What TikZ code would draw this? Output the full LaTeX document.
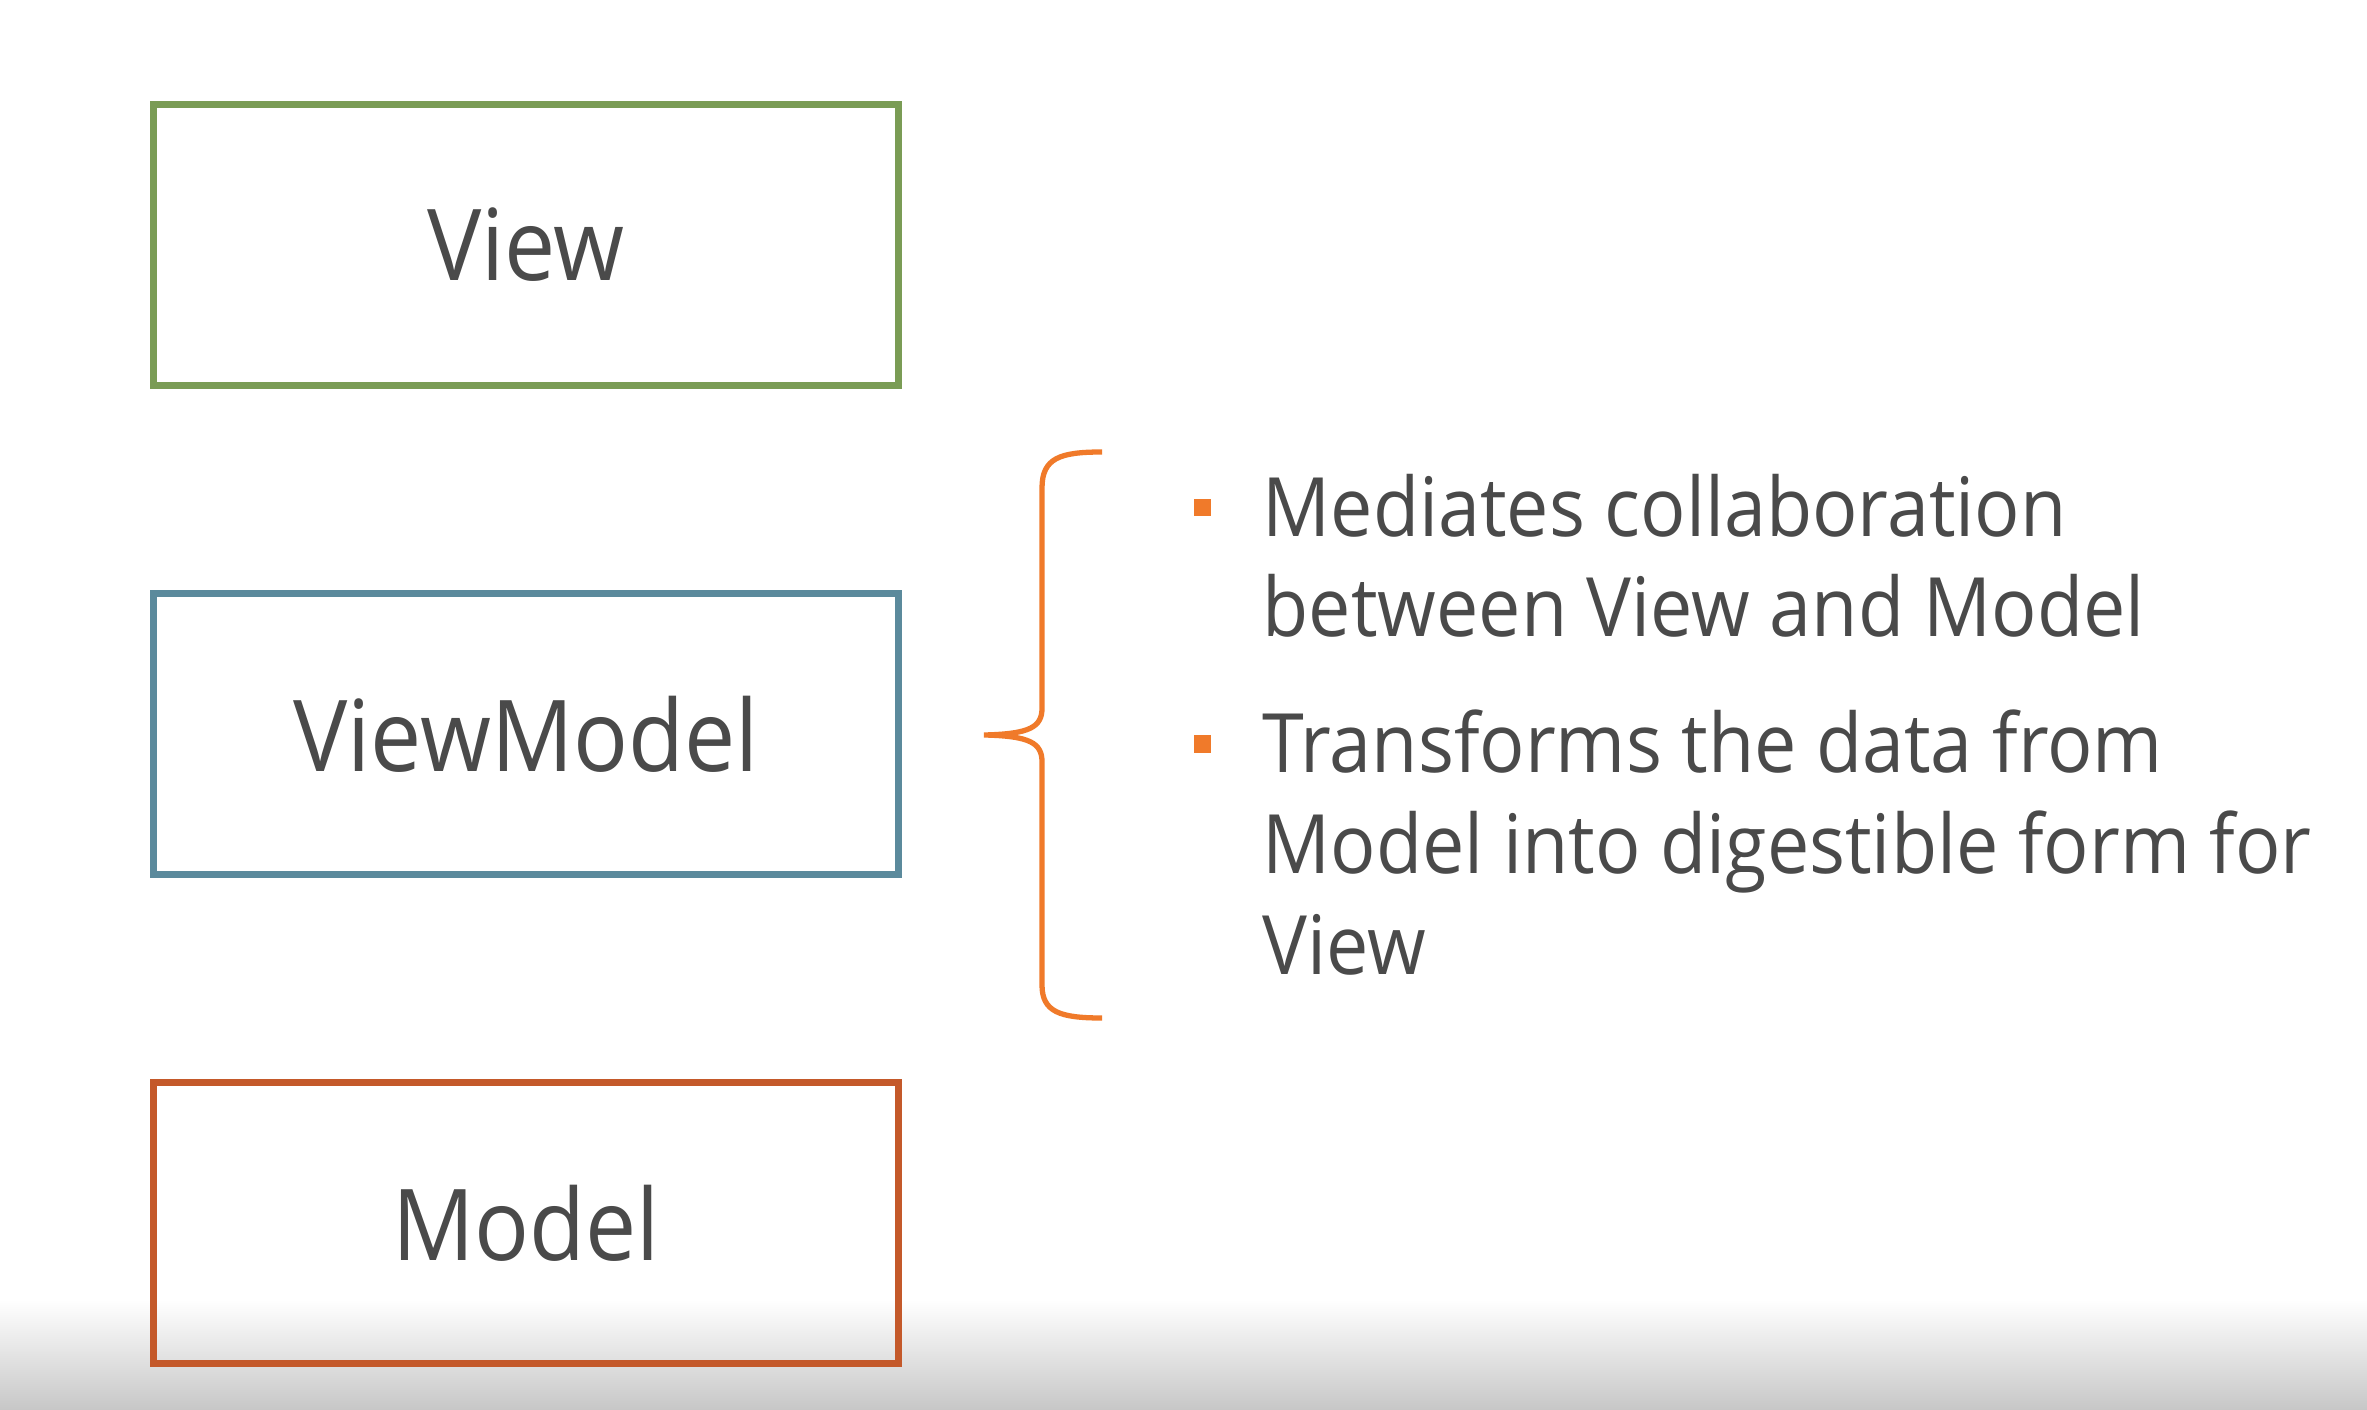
\documentclass[tikz,border=0pt]{standalone}
\usepackage{fontspec}
\setmainfont{Open Sans}[FakeStretch=0.92]
\usetikzlibrary{positioning}

\definecolor{viewgreen}{HTML}{7A9C55}
\definecolor{vmblue}{HTML}{5B8A9C}
\definecolor{modelrust}{HTML}{C4592A}
\definecolor{braceorange}{HTML}{F07A2A}
\definecolor{textgray}{HTML}{4A4A4A}

\begin{document}
\begin{tikzpicture}[x=0.01cm,y=-0.01cm,
  layer/.style={draw,line width=2pt,minimum width=7.44cm,minimum height=2.81cm,
    inner sep=0pt,text=textgray,font=\fontsize{28.2}{34}\selectfont},
  bulletmark/.style={fill=braceorange,minimum size=0.17cm,inner sep=0pt},
  bullettext/.style={text=textgray,align=left,inner sep=0pt,anchor=base west,
    font=\fontsize{23.3}{28.7}\selectfont}]
% page and the grey fade at the bottom
\fill[white] (0,0) rectangle (2367,1410);
\shade[top color=white,bottom color=black!22] (0,1300) rectangle (2367,1410);
\useasboundingbox (0,0) rectangle (2367,1410);

\node[layer,draw=viewgreen] (view) at (526,245) {View};
\node[layer,draw=vmblue] (viewmodel) at (526,734) {ViewModel};
\node[layer,draw=modelrust] (model) at (526,1223) {Model};

% brace
\draw[braceorange,line width=1.5pt]
  (1102,452) .. controls (1060,452) and (1042,458) .. (1042,488) -- (1042,708)
  .. controls (1042,727) and (1030,734) .. (984,735)
  .. controls (1030,736) and (1042,743) .. (1042,762) -- (1042,985)
  .. controls (1042,1012) and (1060,1018) .. (1102,1018);

\node[bulletmark] (b1) at (1202,508) {};
\node[bulletmark] (b2) at (1202,744) {};
% base anchor sits on the last line
\node[bullettext] (mediates) at (1262,637) {Mediates collaboration\\between View and Model};
\node[bullettext] (transforms) at (1262,974) {Transforms the data from\\Model into digestible form for\\View};
\end{tikzpicture}
\end{document}
